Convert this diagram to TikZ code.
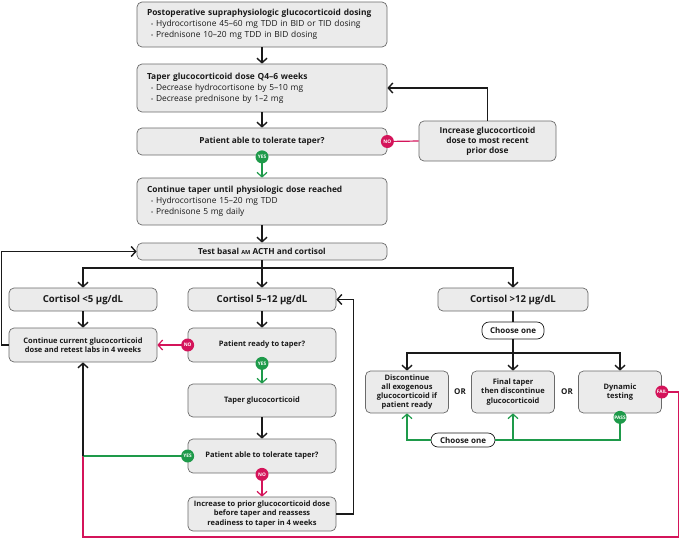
\documentclass[tikz,border=0pt]{standalone}
\usepackage{fontspec}
\setmainfont{Open Sans}
\usetikzlibrary{arrows.meta,calc}
\definecolor{boxfill}{HTML}{EBEBEB}
\definecolor{boxline}{HTML}{6A6A6A}
\definecolor{nored}{HTML}{D4145A}
\definecolor{yesgreen}{HTML}{1E9A4A}
\definecolor{ink}{HTML}{1A1A1A}
\newcommand\mybul{\hspace*{4pt}{\fontsize{5.5}{5}\selectfont\textbullet}\hspace{3pt}}
\begin{document}
\begin{tikzpicture}[x=1pt,y=-1pt,
  base/.style={draw=boxline, fill=boxfill, rounded corners=5pt, line width=0.7pt, inner sep=0pt, align=center, text=ink},
  topbox/.style={base, minimum width=250pt, text width=230pt, align=left, font=\fontsize{8.4}{11}\selectfont},
  mbox/.style={base, font=\fontsize{8.3}{10}\selectfont\bfseries},
  hdr/.style={base, minimum width=148pt, minimum height=23pt, font=\fontsize{9.6}{10}\selectfont\bfseries},
  sbox/.style={base, minimum width=148pt, minimum height=34pt, font=\fontsize{7.5}{9.3}\selectfont\bfseries},
  obox/.style={base, minimum width=83pt, minimum height=42pt, font=\fontsize{7.5}{9.3}\selectfont\bfseries},
  pill/.style={draw=ink, fill=white, rounded corners=7pt, line width=0.7pt, inner sep=0pt, minimum width=62pt, minimum height=17pt, font=\fontsize{8}{8}\selectfont\bfseries, text=ink},
  ortext/.style={inner sep=1pt, font=\fontsize{8}{8}\selectfont\bfseries, text=ink},
  badge/.style={circle, fill=#1, text=white, inner sep=0pt, minimum size=13pt, font=\fontsize{4.8}{4.8}\selectfont\bfseries},
  tip/.style={-{Straight Barb[length=4.5pt,width=10pt]}},
  arr/.style={draw=ink, line width=1.4pt, tip},
  line/.style={draw=ink, line width=1.4pt},
  garr/.style={draw=yesgreen, line width=1.2pt, tip},
  gline/.style={draw=yesgreen, line width=1.2pt},
  rarr/.style={draw=nored, line width=1.2pt, tip},
  rline/.style={draw=nored, line width=1.2pt}
]
\useasboundingbox (0,0) rectangle (685,539);

% boxes
\node[topbox, minimum height=45pt] (post) at (262,24.5) {\textbf{Postoperative supraphysiologic glucocorticoid dosing}\\\mybul Hydrocortisone 45–60 mg TDD in BID or TID dosing\\\mybul Prednisone 10–20 mg TDD in BID dosing};
\node[topbox, minimum height=48pt] (taper) at (262,88) {\textbf{Taper glucocorticoid dose Q4–6 weeks}\\\mybul Decrease hydrocortisone by 5–10 mg\\\mybul Decrease prednisone by 1–2 mg};
\node[mbox, minimum width=250pt, minimum height=27pt] (tol1) at (262,141.5) {Patient able to tolerate taper?};
\node[mbox, minimum width=137pt, minimum height=40pt] (incr1) at (487.5,141) {Increase glucocorticoid\\dose to most recent\\prior dose};
\node[topbox, minimum height=47pt] (cont) at (262,201.5) {\textbf{Continue taper until physiologic dose reached}\\\mybul Hydrocortisone 15–20 mg TDD\\\mybul Prednisone 5 mg daily};
\node[mbox, minimum width=250pt, minimum height=17pt] (test) at (262,251.5) {Test basal {\fontsize{5.6}{5}\selectfont AM} ACTH and cortisol};
\node[hdr] (c5) at (83,299.5) {Cortisol <5 µg/dL};
\node[hdr] (c512) at (262,299.5) {Cortisol 5–12 µg/dL};
\node[hdr, minimum width=150pt] (c12) at (513,299.5) {Cortisol >12 µg/dL};
\node[sbox] (contcur) at (83,345) {Continue current glucocorticoid\\dose and retest labs in 4 weeks};
\node[sbox] (ready) at (262,345) {Patient ready to taper?};
\node[sbox, minimum height=33pt] (tapg) at (262,400.5) {Taper glucocorticoid};
\node[sbox] (tol2) at (262,456) {Patient able to tolerate taper?};
\node[sbox] (incr2) at (262,514) {Increase to prior glucocorticoid dose\\before taper and reassess\\readiness to taper in 4 weeks};
\node[pill] (ch1) at (513,330.5) {Choose one};
\node[obox] (disc) at (407,392) {Discontinue\\all exogenous\\glucocorticoid if\\patient ready};
\node[obox] (final) at (513,392) {Final taper\\then discontinue\\glucocorticoid};
\node[obox] (dyn) at (620,392) {Dynamic\\testing};
\node[ortext] (or1) at (460,392) {OR};
\node[ortext] (or2) at (567,392) {OR};
\node[pill, minimum width=64pt, minimum height=14pt] (ch2) at (463,440) {Choose one};

% badge positions
\coordinate (no1) at (tol1.east);
\coordinate (yes1) at ($(tol1.south)+(0,1.5)$);
\coordinate (no2) at (ready.west);
\coordinate (yes2) at ($(ready.south)+(0,1)$);
\coordinate (yes3) at (tol2.west);
\coordinate (no3) at ($(tol2.south)+(0,1)$);
\coordinate (fail) at (dyn.east);
\coordinate (pass) at ($(dyn.south)+(0,4)$);
\coordinate (br) at (262,268);
\coordinate (br2) at (513,353);
\coordinate (mj) at (83,456);
\coordinate (gj) at (final.south |- ch2.east);

% connectors
\draw[arr] (post.south) -- (taper.north);
\draw[arr] (taper.south) -- (tol1.north);
\draw[garr] (yes1) -- (cont.north);
\draw[rline] (no1) -- (incr1.west);
\draw[arr] (incr1.north) |- (taper.east);
\draw[arr] (cont.south) -- (test.north);
\draw[arr] (test.south) -- (c512.north);
\draw[arr] (br) -| (c5.north);
\draw[arr] (br) -| (c12.north);
\draw[arr] (c5.south) -- (contcur.north);
\draw[arr] (contcur.west) -- ++(-7,0) |- (test.west);
\draw[arr] (c512.south) -- (ready.north);
\draw[rarr] (no2) -- (contcur.east);
\draw[garr] (yes2) -- (tapg.north);
\draw[arr] (tapg.south) -- (tol2.north);
\draw[rarr] (no3) -- (incr2.north);
\draw[arr] (incr2.east) -- ++(17,0) |- (c512.east);
\draw[rline] (fail) -- ++(17,0) |- (83,537) -- (mj);
\draw[gline] (yes3) -- (mj);
\draw[arr] (mj) -- (contcur.south);
\draw[line] (c12.south) -- (ch1.north);
\draw[line] (ch1.south) -- (br2);
\draw[arr] (br2) -| (disc.north);
\draw[arr] (br2) -- (final.north);
\draw[arr] (br2) -| (dyn.north);
\draw[gline] (pass) |- (ch2.east);
\draw[garr] (ch2.west) -| (disc.south);
\draw[garr] (gj) -- (final.south);

% badges
\node[badge=nored] (bno1) at (no1) {NO};
\node[badge=yesgreen] (byes1) at (yes1) {YES};
\node[badge=nored] (bno2) at (no2) {NO};
\node[badge=yesgreen] (byes2) at (yes2) {YES};
\node[badge=yesgreen] (byes3) at (yes3) {YES};
\node[badge=nored] (bno3) at (no3) {NO};
\node[badge=nored] (bfail) at (fail) {FAIL};
\node[badge=yesgreen] (bpass) at (pass) {PASS};
\end{tikzpicture}
\end{document}
